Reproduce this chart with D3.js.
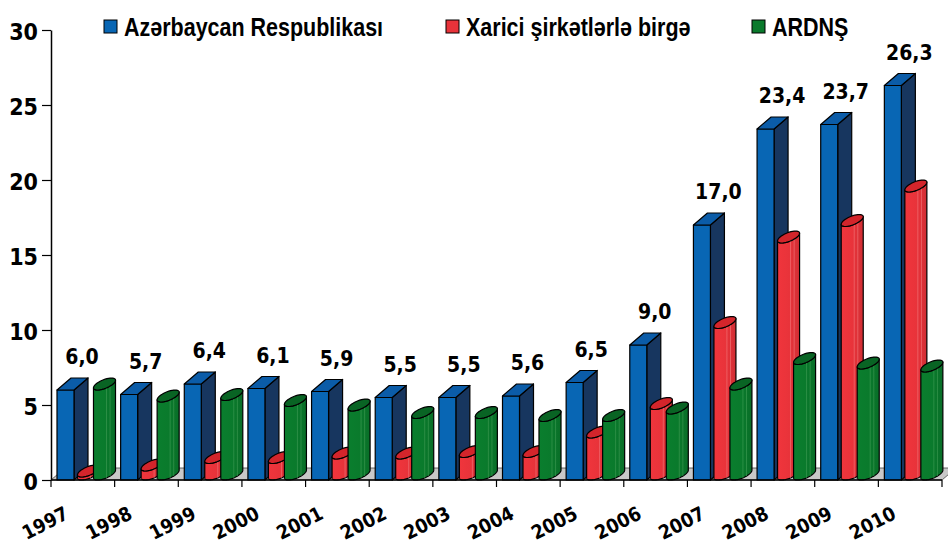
<!DOCTYPE html>
<html>
<head>
<meta charset="utf-8">
<script src="https://cdn.jsdelivr.net/npm/d3@7"></script>
<style>
  html, body { margin: 0; padding: 0; background: #fff; }
  svg { display: block; }
</style>
</head>
<body>
<div id="figure"></div>
<script>
var years = ["1997", "1998", "1999", "2000", "2001", "2002", "2003", "2004", "2005", "2006", "2007", "2008", "2009", "2010"];
var seriesNames = ["Azərbaycan Respublikası", "Xarici şirkətlərlə birgə", "ARDNŞ"];
var azValues = [6.0, 5.7, 6.4, 6.1, 5.9, 5.5, 5.5, 5.6, 6.5, 9.0, 17.0, 23.4, 23.7, 26.3];
var xariciValues = [0.2, 0.6, 1.1, 1.1, 1.4, 1.4, 1.5, 1.5, 2.8, 4.7, 10.1, 15.8, 16.9, 19.2];
var ardnsValues = [6.0, 5.2, 5.3, 4.9, 4.6, 4.1, 4.1, 3.9, 3.9, 4.4, 6.0, 7.7, 7.4, 7.2];
var yTicks = [0, 5, 10, 15, 20, 25, 30];

var W = 948, H = 545;
var DX = 14, DY = -12, BW = 17;   // 3d depth offset and bar front width
var numFont = "'DejaVu Sans Condensed', 'DejaVu Sans', sans-serif";

var series = [
    { name: seriesNames[0], values: azValues, shape: "box", front: "#0866b4", top: "#0b5ca8", side: "#17365f" },
    { name: seriesNames[1], values: xariciValues, shape: "cyl", front: "#e8333a", top: "#d3252b", light: "#f2777a" },
    { name: seriesNames[2], values: ardnsValues, shape: "cyl", front: "#0a7a2c", top: "#096424", light: "#3f9c55" }
];

var svg = d3.select("#figure")
    .append("svg")
    .attr("width", W)
    .attr("height", H);

var y = d3.scaleLinear()
    .domain([0, 30])
    .range([480, 30]);

var x = d3.scaleBand()
    .domain(years)
    .range([51, 942])
    .paddingInner(0)
    .paddingOuter(0);

var xs = d3.scaleBand()
    .domain(seriesNames)
    .range([6, 54]);

var y0 = y(0);
var line = d3.line();

// floor
var xr = x.range();
svg.append("path")
    .attr("d", line([[xr[0], y0], [xr[1], y0], [xr[1] + DX, y0 + DY], [xr[0] + DX, y0 + DY]]) + "Z")
    .attr("fill", "#c8c8c8")
    .attr("stroke", "#444")
    .attr("stroke-width", 0.8);

/**
 * point on the ellipse inscribed in the top face of a box
 */
function ellPoint(cx, cy, t) {
    return [cx + (BW / 2) * Math.cos(t) + (DX / 2) * Math.sin(t), cy + (DY / 2) * Math.sin(t)];
}

function ellArc(cx, cy, t1, t2) {
    var pts = [];
    var n = 40;
    for (var i = 0; i <= n; i++) {
        pts.push(ellPoint(cx, cy, t1 + (t2 - t1) * i / n));
    }
    return pts;
}

function drawBox(g, x0, v, s) {
    var yt = y(v);
    g.append("path")
        .attr("d", line([[x0 + BW, yt], [x0 + BW + DX, yt + DY], [x0 + BW + DX, y0 + DY], [x0 + BW, y0]]) + "Z")
        .attr("fill", s.side);
    g.append("rect")
        .attr("x", x0).attr("y", yt)
        .attr("width", BW).attr("height", y0 - yt)
        .attr("fill", s.front);
    g.append("path")
        .attr("d", line([[x0, yt], [x0 + BW, yt], [x0 + BW + DX, yt + DY], [x0 + DX, yt + DY]]) + "Z")
        .attr("fill", s.top);
    g.selectAll("path, rect")
        .attr("stroke", "#000")
        .attr("stroke-width", 1.2)
        .attr("stroke-linejoin", "round");
}

function drawCyl(g, x0, v, s, gid) {
    var yt = y(v);
    var cx = x0 + BW / 2 + DX / 2;
    var ctop = yt + DY / 2, cbot = y0 + DY / 2;
    var tr = Math.atan2(DX / 2, BW / 2);
    var tl = tr - Math.PI;
    var body = [ellPoint(cx, ctop, tr)]
        .concat(ellArc(cx, cbot, tr, tl))
        .concat(ellArc(cx, ctop, tl, tr));
    g.append("path")
        .attr("d", line(body) + "Z")
        .attr("fill", "url(#" + gid + ")")
        .attr("stroke", "#000")
        .attr("stroke-width", 1.2)
        .attr("stroke-linejoin", "round");
    [-0.35, -0.7].forEach(function (t) {
        var a = ellPoint(cx, ctop, t), b = ellPoint(cx, cbot, t);
        g.append("line")
            .attr("x1", a[0]).attr("y1", a[1])
            .attr("x2", b[0]).attr("y2", b[1])
            .attr("stroke", s.light)
            .attr("stroke-width", 0.9)
            .attr("opacity", 0.7);
    });
    g.append("path")
        .attr("d", line(ellArc(cx, ctop, 0, 2 * Math.PI)) + "Z")
        .attr("fill", s.top)
        .attr("stroke", "#000")
        .attr("stroke-width", 1.2);
}

// gradients for cylinders
var defs = svg.append("defs");
series.forEach(function (s, i) {
    if (s.shape !== "cyl") return;
    var grad = defs.append("linearGradient")
        .attr("id", "cg" + i)
        .attr("x1", 0).attr("x2", 1).attr("y1", 0).attr("y2", 0);
    grad.append("stop").attr("offset", 0).attr("stop-color", d3.color(s.front).brighter(0.1));
    grad.append("stop").attr("offset", 0.55).attr("stop-color", s.front);
    grad.append("stop").attr("offset", 1).attr("stop-color", d3.color(s.front).darker(0.3));
});

// bars
var bars = svg.append("g");
years.forEach(function (yr, i) {
    series.forEach(function (s, k) {
        var g = bars.append("g");
        var x0 = x(yr) + xs(s.name);
        if (s.shape === "box") drawBox(g, x0, s.values[i], s);
        else drawCyl(g, x0, s.values[i], s, "cg" + k);
    });
});

// value labels for the first series
svg.append("g")
    .selectAll("text")
    .data(azValues)
    .join("text")
    .attr("x", function (d, i) { return x(years[i]) + xs(seriesNames[0]) + 25; })
    .attr("y", function (d) { return y(d) - 33; })
    .attr("text-anchor", "middle")
    .attr("dominant-baseline", "central")
    .attr("font-family", numFont)
    .attr("font-stretch", "condensed")
    .attr("font-weight", "bold")
    .attr("font-size", 21)
    .attr("fill", "#000")
    .text(function (d) { return d.toFixed(1).replace(".", ","); });

// y axis
var yAxis = svg.append("g")
    .attr("transform", "translate(51,0)")
    .call(d3.axisLeft(y).tickValues(yTicks).tickSize(9).tickSizeOuter(0).tickPadding(4).tickFormat(d3.format("d")));
yAxis.select(".domain").attr("stroke", "#000").attr("stroke-width", 1.5);
yAxis.selectAll(".tick line").attr("stroke", "#000").attr("stroke-width", 1.2);
yAxis.selectAll(".tick text")
    .attr("font-family", numFont)
    .attr("font-stretch", "condensed")
    .attr("font-weight", "bold")
    .attr("font-size", 23)
    .attr("dy", "0.4em")
    .attr("fill", "#000");

// x axis: line with ticks at category edges
var xAxis = svg.append("g");
xAxis.append("line")
    .attr("x1", xr[0]).attr("x2", xr[1])
    .attr("y1", y0).attr("y2", y0)
    .attr("stroke", "#000")
    .attr("stroke-width", 1.5);
xAxis.selectAll("line.tk")
    .data(years.map(function (d) { return x(d); }).concat([xr[1]]))
    .join("line")
    .attr("class", "tk")
    .attr("x1", function (d) { return d; }).attr("x2", function (d) { return d; })
    .attr("y1", y0).attr("y2", y0 + 7)
    .attr("stroke", "#000")
    .attr("stroke-width", 1.2);
xAxis.selectAll("text")
    .data(years)
    .join("text")
    .attr("transform", function (d) { return "translate(" + (x(d) + 19) + ",518) rotate(-27)"; })
    .attr("text-anchor", "end")
    .attr("font-family", numFont)
    .attr("font-stretch", "condensed")
    .attr("font-weight", "bold")
    .attr("font-size", 19.5)
    .attr("fill", "#000")
    .text(function (d) { return d; });

// legend
var legendX = [104, 446, 752];
var legend = svg.append("g");
series.forEach(function (s, i) {
    var lg = legend.append("g").attr("transform", "translate(" + legendX[i] + ",0)");
    lg.append("rect")
        .attr("x", 0).attr("y", 20)
        .attr("width", 13).attr("height", 13)
        .attr("fill", s.front)
        .attr("stroke", "#000")
        .attr("stroke-width", 1);
    lg.append("text")
        .attr("transform", "translate(20,36) scale(0.86,1)")
        .attr("font-family", "'Liberation Sans', Arial, sans-serif")
        .attr("font-weight", "bold")
        .attr("font-size", 25)
        .attr("fill", "#000")
        .text(s.name);
});
</script>
</body>
</html>
